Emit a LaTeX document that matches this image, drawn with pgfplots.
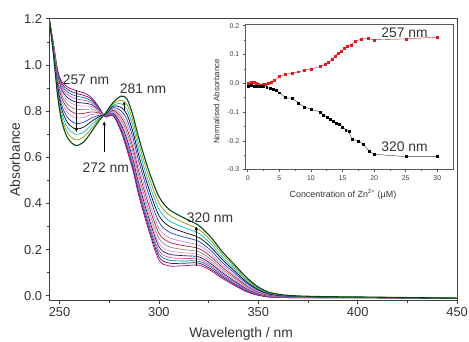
\documentclass[border=0pt]{standalone}
\usepackage{fontspec}
\setmainfont{Liberation Sans}
\usepackage{pgfplots}
\pgfplotsset{compat=1.18}
\usepackage{pgfplotstable}
\usetikzlibrary{arrows.meta}

\pgfplotstableread{
lam c0 c1 c2 c3 c4 c5 c6 c7 c8 c9 c10 c11 c12 c13
245 1.190 1.190 1.190 1.190 1.190 1.190 1.190 1.190 1.190 1.190 1.190 1.190 1.190 1.190
247 1.090 1.088 1.085 1.083 1.080 1.077 1.073 1.069 1.065 1.060 1.055 1.050 1.045 1.040
249 0.980 0.975 0.969 0.964 0.957 0.950 0.943 0.934 0.925 0.914 0.903 0.892 0.881 0.870
251 0.930 0.922 0.913 0.905 0.894 0.884 0.872 0.859 0.845 0.828 0.811 0.794 0.777 0.760
254 0.905 0.894 0.883 0.872 0.859 0.846 0.830 0.813 0.795 0.773 0.751 0.729 0.707 0.685
258 0.890 0.878 0.866 0.854 0.840 0.826 0.809 0.790 0.771 0.747 0.723 0.700 0.676 0.652
262 0.880 0.869 0.859 0.848 0.835 0.822 0.807 0.790 0.773 0.751 0.730 0.708 0.687 0.665
266 0.860 0.853 0.845 0.838 0.829 0.820 0.809 0.797 0.785 0.770 0.755 0.740 0.725 0.710
270 0.815 0.812 0.810 0.807 0.803 0.800 0.796 0.792 0.788 0.782 0.777 0.771 0.766 0.760
273 0.775 0.776 0.777 0.777 0.778 0.779 0.780 0.781 0.783 0.784 0.786 0.787 0.789 0.790
277 0.780 0.783 0.786 0.789 0.792 0.796 0.800 0.804 0.809 0.815 0.821 0.826 0.832 0.838
281 0.710 0.718 0.725 0.733 0.742 0.751 0.762 0.774 0.786 0.801 0.816 0.832 0.847 0.865
284 0.630 0.641 0.652 0.663 0.676 0.689 0.705 0.722 0.740 0.762 0.784 0.806 0.828 0.852
287 0.540 0.552 0.564 0.576 0.590 0.605 0.622 0.641 0.660 0.684 0.708 0.732 0.756 0.780
290 0.430 0.443 0.455 0.468 0.483 0.498 0.515 0.535 0.555 0.580 0.605 0.630 0.655 0.680
295 0.280 0.293 0.306 0.319 0.335 0.350 0.368 0.389 0.410 0.436 0.462 0.488 0.514 0.540
300 0.155 0.169 0.183 0.196 0.213 0.229 0.249 0.271 0.293 0.320 0.348 0.375 0.403 0.430
305 0.130 0.142 0.155 0.167 0.181 0.196 0.213 0.233 0.253 0.277 0.302 0.326 0.351 0.375
312 0.130 0.141 0.151 0.162 0.174 0.187 0.201 0.218 0.235 0.256 0.277 0.298 0.319 0.340
320 0.133 0.142 0.150 0.159 0.169 0.179 0.191 0.205 0.219 0.236 0.253 0.271 0.288 0.305
326 0.110 0.117 0.125 0.132 0.140 0.149 0.159 0.171 0.183 0.197 0.212 0.226 0.241 0.255
332 0.075 0.081 0.087 0.092 0.099 0.106 0.114 0.123 0.133 0.144 0.156 0.167 0.179 0.190
338 0.045 0.050 0.054 0.059 0.064 0.069 0.076 0.083 0.090 0.099 0.108 0.117 0.126 0.135
344 0.018 0.021 0.024 0.027 0.031 0.035 0.039 0.044 0.049 0.055 0.061 0.068 0.074 0.080
350 0.002 0.004 0.006 0.007 0.010 0.012 0.014 0.017 0.020 0.024 0.027 0.031 0.034 0.038
356 -0.006 -0.005 -0.004 -0.003 -0.002 -0.001 0.001 0.002 0.004 0.006 0.008 0.010 0.012 0.014
365 -0.008 -0.008 -0.007 -0.007 -0.006 -0.005 -0.005 -0.004 -0.003 -0.002 -0.001 0.000 0.001 0.002
380 -0.008 -0.008 -0.008 -0.007 -0.007 -0.007 -0.006 -0.006 -0.006 -0.005 -0.005 -0.004 -0.004 -0.003
410 -0.009 -0.009 -0.009 -0.009 -0.008 -0.008 -0.008 -0.008 -0.008 -0.007 -0.007 -0.007 -0.006 -0.006
450 -0.012 -0.012 -0.012 -0.012 -0.012 -0.011 -0.011 -0.011 -0.011 -0.011 -0.011 -0.010 -0.010 -0.010
}\spectra

\pgfplotstableread{
x y
0.0 0.000
0.3 -0.002
0.6 0.003
1.0 0.004
1.3 0.000
1.6 -0.004
2.0 -0.006
2.4 -0.005
2.8 -0.003
3.2 0.000
3.7 0.004
4.2 0.010
5.0 0.023
6.0 0.031
7.0 0.035
8.0 0.040
9.0 0.045
10.0 0.050
11.5 0.058
12.3 0.066
12.8 0.074
13.3 0.084
13.8 0.095
14.3 0.104
14.8 0.112
15.3 0.120
15.8 0.127
16.3 0.133
17.0 0.145
18.0 0.154
19.0 0.155
20.0 0.151
25.0 0.154
30.0 0.160
}\redpts

\pgfplotstableread{
x y
0.0 -0.010
0.5 -0.008
1.0 -0.010
1.5 -0.012
2.0 -0.012
2.5 -0.012
3.0 -0.014
3.5 -0.018
4.0 -0.020
4.5 -0.024
5.0 -0.033
6.0 -0.050
7.0 -0.053
8.0 -0.068
9.0 -0.083
10.0 -0.090
11.5 -0.100
12.0 -0.110
12.6 -0.118
13.0 -0.125
13.5 -0.133
14.0 -0.140
14.5 -0.142
15.0 -0.152
15.5 -0.162
16.0 -0.168
16.5 -0.195
17.5 -0.200
18.3 -0.212
19.2 -0.235
20.0 -0.247
25.0 -0.255
30.0 -0.255
}\blackpts

\definecolor{k0}{RGB}{160,0,120}
\definecolor{k1}{RGB}{110,0,110}
\definecolor{k2}{RGB}{0,130,140}
\definecolor{k3}{RGB}{230,80,170}
\definecolor{k4}{RGB}{20,20,140}
\definecolor{k5}{RGB}{240,150,200}
\definecolor{k6}{RGB}{140,140,140}
\definecolor{k7}{RGB}{180,30,50}
\definecolor{k8}{RGB}{200,140,220}
\definecolor{k9}{RGB}{30,60,220}
\definecolor{k10}{RGB}{0,0,0}
\definecolor{k11}{RGB}{0,190,210}
\definecolor{k12}{RGB}{140,150,0}
\definecolor{k13}{RGB}{10,70,20}
\definecolor{insred}{RGB}{220,30,30}

\begin{document}
\begin{tikzpicture}
\begin{axis}[
  at={(0,0)}, anchor=south west,
  scale only axis, width=411pt, height=284pt,
  xmin=245, xmax=450, ymin=-0.02, ymax=1.2,
  xtick={250,300,350,400,450}, minor x tick num=1,
  ytick={0,0.2,0.4,0.6,0.8,1.0,1.2}, minor y tick num=1,
  tick pos=left, tick align=outside,
  major tick length=4pt, minor tick length=2.5pt,
  axis line style={black!75, line width=0.9pt},
  tick style={black!75, line width=0.7pt},
  /pgf/number format/assume math mode=true,
  yticklabel style={/pgf/number format/.cd, fixed, fixed zerofill, precision=1},
  ticklabel style={font=\fontsize{13}{13}\selectfont, text=black!80},
  xlabel={Wavelength / nm}, ylabel={Absorbance},
  label style={font=\fontsize{14}{14}\selectfont, text=black!80},
  xlabel style={at={(axis description cs:0.47,-0.12)}, anchor=center},
  ylabel style={at={(axis description cs:-0.085,0.5)}, anchor=center},
  every axis plot/.append style={smooth, tension=0.5, line width=0.7pt, no markers},
]
\addplot[k0] table[x=lam, y=c0] {\spectra};
\addplot[k1] table[x=lam, y=c1] {\spectra};
\addplot[k2] table[x=lam, y=c2] {\spectra};
\addplot[k3] table[x=lam, y=c3] {\spectra};
\addplot[k4] table[x=lam, y=c4] {\spectra};
\addplot[k5] table[x=lam, y=c5] {\spectra};
\addplot[k6] table[x=lam, y=c6] {\spectra};
\addplot[k7] table[x=lam, y=c7] {\spectra};
\addplot[k8] table[x=lam, y=c8] {\spectra};
\addplot[k9] table[x=lam, y=c9] {\spectra};
\addplot[k10] table[x=lam, y=c10] {\spectra};
\addplot[k11] table[x=lam, y=c11] {\spectra};
\addplot[k12] table[x=lam, y=c12] {\spectra};
\addplot[k13, line width=1.1pt] table[x=lam, y=c13] {\spectra};

\draw[black, line width=0.6pt, -{Stealth[length=4pt,width=3.5pt]}] (axis cs:258.5,0.89) -- (axis cs:258.5,0.71);
\draw[black, line width=0.6pt, -{Stealth[length=4pt,width=3.5pt]}] (axis cs:272.5,0.625) -- (axis cs:272.5,0.755);
\draw[black, line width=0.6pt, -{Stealth[length=3pt,width=3pt]}] (axis cs:282.5,0.80) -- (axis cs:282.5,0.84);
\draw[black, line width=0.6pt, -{Stealth[length=4pt,width=3.5pt]}] (axis cs:318.8,0.128) -- (axis cs:318.8,0.30);
\begin{scope}[every node/.style={font=\fontsize{14}{14}\selectfont, text=black!80}]
\node at (axis cs:263.3,0.936) {257 nm};
\node at (axis cs:292,0.897) {281 nm};
\node at (axis cs:273.3,0.556) {272 nm};
\node at (axis cs:325.7,0.338) {320 nm};
\end{scope}
\end{axis}

\begin{axis}[
  at={(197.3pt,132pt)}, anchor=south west,
  scale only axis, width=209.7pt, height=146pt,
  xmin=-0.4, xmax=32.5, ymin=-0.3, ymax=0.203,
  xtick={0,5,10,15,20,25,30}, minor x tick num=1,
  ytick={-0.3,-0.2,-0.1,0,0.1,0.2}, minor y tick num=1,
  tick pos=left, tick align=outside,
  major tick length=2.5pt, minor tick length=1.5pt,
  axis line style={black!65, line width=0.6pt},
  tick style={black!65, line width=0.5pt},
  /pgf/number format/assume math mode=true,
  yticklabel style={/pgf/number format/.cd, fixed, fixed zerofill, precision=1},
  ticklabel style={font=\fontsize{7}{7}\selectfont, text=black!75},
  xlabel={Concentration of Zn\textsuperscript{2+} (µM)},
  ylabel={Normalised Absorbance},
  xlabel style={font=\fontsize{9}{9}\selectfont, text=black!80, at={(axis description cs:0.47,-0.17)}, anchor=center},
  ylabel style={font=\fontsize{8}{8}\selectfont, text=black!80, at={(axis description cs:-0.138,0.47)}, anchor=center},
]
\addplot[insred, line width=0.4pt, mark=square*, mark size=1pt, mark options={fill=insred, draw=insred}] table {\redpts};
\addplot[black!80, line width=0.4pt, mark=square*, mark size=1pt, mark options={fill=black, draw=black}] table {\blackpts};
\node[font=\fontsize{14}{14}\selectfont, text=black!80] at (axis cs:24.8,0.177) {257 nm};
\node[font=\fontsize{14}{14}\selectfont, text=black!80] at (axis cs:24.8,-0.22) {320 nm};
\end{axis}
\pgfresetboundingbox
\path (-50pt,-41pt) rectangle (423pt,303pt);
\end{tikzpicture}
\end{document}
